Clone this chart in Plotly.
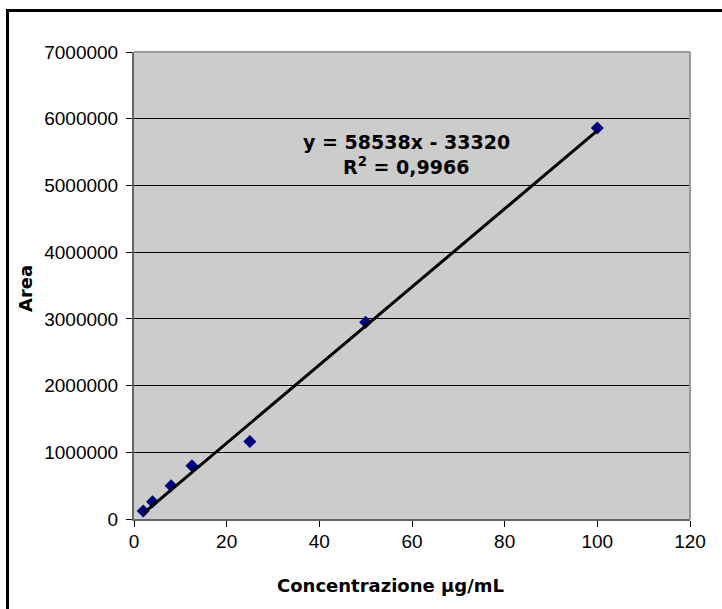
import plotly.graph_objects as go

# Calibration standards: concentration (µg/mL) vs. peak area
concentration = [2, 4, 8, 12.5, 25, 50, 100]
area = [120000, 260000, 500000, 800000, 1160000, 2950000, 5860000]

# Linear regression reported on the chart
slope = 58538
intercept = -33320
r_squared = "0,9966"

x_ticks = [0, 20, 40, 60, 80, 100, 120]
y_ticks = [0, 1000000, 2000000, 3000000, 4000000, 5000000, 6000000, 7000000]

W, H = 722, 609
L, R, T, B = 134, 32, 52, 90
pw, ph = W - L - R, H - T - B


def px(x):
    return (x - L) / pw


def py(y):
    return (H - B - y) / ph


fit_x = [min(concentration), max(concentration)]
fit_y = [slope * v + intercept for v in fit_x]

fig = go.Figure()
fig.add_trace(go.Scatter(
    x=concentration, y=area, mode="markers",
    marker=dict(symbol="diamond", size=10, color="#000080",
                line=dict(width=0)),
    showlegend=False, cliponaxis=False,
))
fig.add_trace(go.Scatter(
    x=fit_x, y=fit_y, mode="lines",
    line=dict(color="black", width=3),
    showlegend=False,
))

tick_font = dict(family="Liberation Sans, Arial", size=19, color="black")
title_font = dict(family="DejaVu Sans, Verdana", size=18, color="black")
eq_font = dict(family="DejaVu Sans, Verdana", size=19, color="black")

fig.update_xaxes(
    range=[0, 120], tickvals=x_ticks, ticktext=[str(v) for v in x_ticks],
    showgrid=False, zeroline=False,
    showline=True, linecolor="#666666", linewidth=2,
    ticks="outside", ticklen=6, tickwidth=1, tickcolor="black",
    tickfont=tick_font, ticklabelstandoff=-2,
)
fig.update_yaxes(
    range=[0, 7000000], tickvals=y_ticks, ticktext=[str(v) for v in y_ticks],
    showgrid=True, gridcolor="black", gridwidth=1, zeroline=False,
    showline=True, linecolor="#666666", linewidth=2,
    ticks="outside", ticklen=6, tickwidth=1, tickcolor="black",
    tickfont=tick_font, ticklabelstandoff=4,
)

shapes = [
    # plot area top and right border
    dict(type="line", xref="paper", yref="paper", x0=0, x1=1, y0=1, y1=1,
         line=dict(color="#999999", width=2)),
    dict(type="line", xref="paper", yref="paper", x0=1, x1=1, y0=0, y1=1,
         line=dict(color="#999999", width=2)),
    # chart frame
    dict(type="rect", xref="paper", yref="paper",
         x0=px(7.5), x1=px(740), y0=py(640), y1=py(10.5),
         line=dict(color="black", width=3), fillcolor="rgba(0,0,0,0)"),
]

annotations = [
    dict(text="<b>Area</b>", x=px(25), y=py(289), xref="paper", yref="paper",
         textangle=-90, showarrow=False, font=title_font,
         xanchor="center", yanchor="middle"),
    dict(text="<b>Concentrazione µg/mL</b>", x=px(390), y=py(585),
         xref="paper", yref="paper", showarrow=False, font=title_font,
         xanchor="center", yanchor="middle"),
    dict(text=f"<b>y = {slope}x - {abs(intercept)}</b>", x=px(406), y=py(142),
         xref="paper", yref="paper", showarrow=False, font=eq_font,
         xanchor="center", yanchor="middle"),
    dict(text=f"<b>R<sup>2</sup> = {r_squared}</b>", x=px(406), y=py(166),
         xref="paper", yref="paper", showarrow=False, font=eq_font,
         xanchor="center", yanchor="middle"),
]

fig.update_layout(
    width=W, height=H,
    margin=dict(l=L, r=R, t=T, b=B, pad=0),
    paper_bgcolor="white", plot_bgcolor="#cccccc",
    shapes=shapes, annotations=annotations,
    showlegend=False,
)

fig.write_html("out.html")
